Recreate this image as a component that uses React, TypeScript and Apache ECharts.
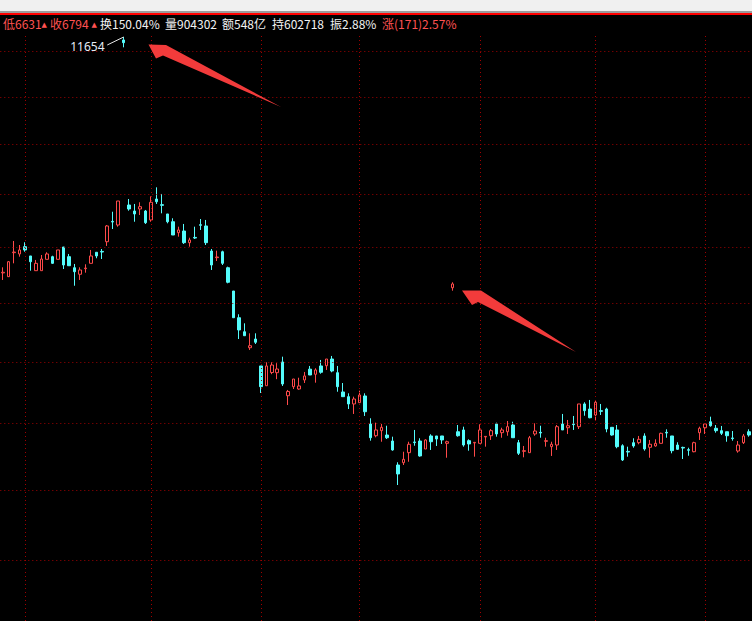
import React, { useEffect, useRef } from 'react';
import * as echarts from 'echarts';

// ---- data ----
const opens = [
  8705, 8658, 8958, 8942, 9033, 8917, 8733, 8733, 8875, 8908,
  8875, 9029, 8908, 8770, 8688, 8758, 8825, 8963, 8974, 9095,
  9349, 9304, 11617, 9554, 9479, 9504, 9479, 9367, 9629, 9558,
  9442, 9345, 9208, 9229, 9083, 9149, 9308, 9292, 8979, 8896,
  8970, 8770, 8479, 8145, 7970, 7770, 7879, 7542, 7295, 7460,
  7458, 7592, 7170, 7283, 7254, 7367, 7502, 7438, 7542, 7545,
  7629, 7458, 7217, 7158, 7067, 7083, 7167, 6817, 6670, 6733,
  6679, 6604, 6304, 6333, 6458, 6592, 6604, 6504, 6667, 6667,
  6667, 6575, 8520, 6720, 6742, 6608, 6580, 6575, 6654, 6670,
  6817, 6708, 6720, 6804, 6583, 6475, 6458, 6692, 6712, 6600,
  6533, 6554, 6817, 6770, 6817, 6783, 7067, 7004, 6929, 6983,
  7004, 6775, 6742, 6545, 6474, 6583, 6583, 6667, 6525, 6542,
  6575, 6712, 6667, 6554, 6524, 6496, 6470, 6708, 6770, 6845,
  6763, 6733, 6720, 6642, 6479, 6583, 6720,
];
const closes = [
  8713, 8845, 8966, 8992, 8992, 8845, 8825, 8879, 8942, 8825,
  8992, 8804, 8795, 8720, 8742, 8766, 8917, 8917, 8966, 9292,
  9341, 9604, 11583, 9504, 9442, 9533, 9333, 9588, 9595, 9550,
  9345, 9179, 9242, 9083, 9117, 9141, 9300, 9083, 8804, 8904,
  8825, 8588, 8145, 7992, 7920, 7795, 7838, 7283, 7542, 7554,
  7504, 7317, 7223, 7379, 7292, 7417, 7429, 7492, 7463, 7629,
  7479, 7283, 7158, 7067, 7129, 7179, 6970, 6645, 6742, 6775,
  6645, 6492, 6192, 6375, 6563, 6584, 6417, 6617, 6595, 6629,
  6617, 6595, 8567, 6670, 6554, 6567, 6587, 6742, 6662, 6733,
  6692, 6742, 6783, 6645, 6450, 6483, 6645, 6729, 6704, 6608,
  6563, 6783, 6742, 6795, 6809, 7067, 6983, 6895, 7088, 6975,
  6754, 6679, 6533, 6367, 6466, 6542, 6625, 6504, 6563, 6575,
  6700, 6704, 6483, 6500, 6516, 6488, 6583, 6763, 6817, 6795,
  6733, 6700, 6670, 6634, 6554, 6667, 6679,
];
const lows = [
  8617, 8655, 8825, 8908, 8970, 8733, 8733, 8733, 8875, 8817,
  8875, 8754, 8795, 8545, 8617, 8708, 8825, 8888, 8879, 9042,
  9254, 9283, 11525, 9483, 9345, 9429, 9317, 9345, 9567, 9450,
  9325, 9179, 9158, 9067, 9033, 9129, 9242, 9054, 8742, 8854,
  8804, 8575, 8145, 7879, 7917, 7742, 7817, 7204, 7295, 7439,
  7377, 7292, 7054, 7254, 7245, 7329, 7429, 7333, 7445, 7492,
  7463, 7220, 7158, 7004, 6942, 7083, 6917, 6608, 6650, 6595,
  6629, 6483, 6054, 6304, 6345, 6545, 6408, 6504, 6492, 6542,
  6567, 6395, 8483, 6658, 6533, 6483, 6408, 6575, 6533, 6617,
  6658, 6645, 6670, 6645, 6429, 6400, 6458, 6670, 6645, 6533,
  6417, 6492, 6742, 6692, 6742, 6754, 6920, 6888, 6858, 6929,
  6713, 6670, 6513, 6354, 6408, 6520, 6563, 6483, 6395, 6533,
  6575, 6645, 6450, 6492, 6379, 6420, 6463, 6617, 6692, 6783,
  6708, 6679, 6595, 6608, 6458, 6567, 6658,
];
const highs = [
  8775, 8854, 9104, 9054, 9088, 8917, 8867, 8929, 8963, 8920,
  8992, 9029, 8942, 8817, 8775, 8813, 8992, 8963, 9004, 9304,
  9470, 9604, 11654, 9629, 9567, 9588, 9492, 9662, 9775, 9692,
  9442, 9388, 9283, 9317, 9145, 9283, 9379, 9367, 9004, 8983,
  8983, 8783, 8479, 8188, 8075, 7950, 7950, 7542, 7588, 7588,
  7577, 7658, 7242, 7379, 7395, 7467, 7542, 7513, 7617, 7629,
  7667, 7542, 7329, 7200, 7158, 7233, 7200, 6888, 6833, 6817,
  6795, 6658, 6338, 6470, 6595, 6742, 6638, 6625, 6688, 6667,
  6667, 6608, 8588, 6804, 6783, 6625, 6592, 6813, 6662, 6754,
  6833, 6770, 6854, 6845, 6617, 6542, 6667, 6825, 6795, 6645,
  6595, 6804, 6942, 6867, 6917, 7067, 7088, 7117, 7108, 7067,
  7020, 6775, 6804, 6563, 6533, 6638, 6667, 6700, 6617, 6625,
  6708, 6750, 6667, 6588, 6533, 6520, 6595, 6783, 6825, 6908,
  6804, 6792, 6720, 6729, 6604, 6692, 6750,
];
const categories = opens.map((_, i) => `K${i + 1}`);

// price levels of the dotted horizontal grid lines
const gridLevels = [11479, 10904, 10317, 9692, 9029, 8329, 7592, 6829, 5992, 5117];
// bars where a new month starts (vertical dotted lines)
const monthStartIdx = [4, 27, 47, 65, 87, 108, 128];

// the highest-high annotation
const peakLabel = '11654';
const peakLeaderFrom = { idx: 19, price: 11554 };
const peakLeaderTo = { idx: 22, price: 11654 };

// header texts
const headerTexts = ['低6631', '▲', '收6794', '▲', '换150.04%', '量904302', '额548亿', '持602718', '振2.88%', '涨(171)2.57%'];
const headerIsRed = [true, true, true, true, false, false, false, false, false, true];

// ---- layout / style ----
const headerX = [3, 41.5, 50, 91.5, 100, 165, 222, 272, 330, 382];
const Y_MIN = 4354;
const Y_MAX = 11666.5;
const RED = '#FF4A4A';
const CYAN = '#54FCFC';
const GRID_RED = '#A00000';
const ARROW_RED = '#F23B3B';
const TEXT_RED = '#FF5252';
const TEXT_WHITE = '#F2F2F2';

const arrowShapes = [
  [[148.5, 44.5], [166, 45], [281, 107], [163, 55.5], [156, 58.5]],
  [[462, 290.5], [481, 290.5], [576, 352], [478, 302], [472, 305]],
];

function buildOption() {
  const dotted = { color: GRID_RED, width: 1, type: [1, 3] as number[] };
  const markData: any[] = [];
  gridLevels.forEach((v) => markData.push({ yAxis: v, lineStyle: dotted }));
  monthStartIdx.forEach((i) => markData.push({ xAxis: categories[i], lineStyle: dotted }));
  const leaderStyle = { color: '#E8E8E8', width: 1, type: 'solid' };
  const leaderLabel = {
    show: true,
    position: 'start',
    distance: 3,
    formatter: peakLabel,
    color: '#E6ECF5',
    fontSize: 12,
    fontFamily: 'Noto Sans',
  };
  markData.push([
    { coord: [categories[peakLeaderFrom.idx], peakLeaderFrom.price], lineStyle: leaderStyle, label: leaderLabel },
    { coord: [categories[peakLeaderTo.idx], peakLeaderTo.price], lineStyle: leaderStyle, label: leaderLabel },
  ]);

  const graphics: any[] = [
    { type: 'rect', shape: { x: 0, y: 0, width: 752, height: 11 }, style: { fill: '#F0F0F0' }, z: 20 },
    { type: 'rect', shape: { x: 0, y: 11, width: 752, height: 2 }, style: { fill: '#9C9C9C' }, z: 20 },
    { type: 'rect', shape: { x: 0, y: 13, width: 752, height: 2 }, style: { fill: '#FF0000' }, z: 20 },
  ];
  headerTexts.forEach((t, k) => {
    const isArrow = t === '▲';
    graphics.push({
      type: 'text',
      x: headerX[k],
      y: isArrow ? 24.5 : 23.5,
      z: 20,
      style: {
        text: t,
        fill: headerIsRed[k] ? TEXT_RED : TEXT_WHITE,
        fontSize: isArrow ? 7 : 12,
        fontFamily: isArrow ? 'DejaVu Sans' : '"Noto Sans CJK SC", "Noto Sans", sans-serif',
        align: 'left',
        verticalAlign: 'middle',
      },
    });
  });
  arrowShapes.forEach((pts) => {
    graphics.push({ type: 'polygon', shape: { points: pts }, style: { fill: ARROW_RED }, z: 15 });
  });

  return {
    animation: false,
    backgroundColor: '#000',
    grid: { left: 0.3, right: 0.4, top: 36, bottom: 0 },
    xAxis: { type: 'category', data: categories, show: false, boundaryGap: true },
    yAxis: { type: 'value', min: Y_MIN, max: Y_MAX, show: false },
    series: [
      {
        type: 'candlestick',
        data: opens.map((o, i) => [o, closes[i], lows[i], highs[i]]),
        barWidth: 3,
        itemStyle: {
          color: '#000',
          color0: CYAN,
          borderColor: RED,
          borderColor0: CYAN,
          borderWidth: 1,
        },
        markLine: {
          silent: true,
          animation: false,
          symbol: ['none', 'none'],
          label: { show: false },
          data: markData,
        },
      },
    ],
    graphic: graphics,
  };
}

export default function App() {
  const ref = useRef<HTMLDivElement>(null);
  useEffect(() => {
    document.body.style.margin = '0';
    document.body.style.background = '#000';
    const chart = echarts.init(ref.current as HTMLDivElement, null, { renderer: 'svg' });
    chart.setOption(buildOption() as any);
    return () => chart.dispose();
  }, []);
  return <div ref={ref} style={{ width: 752, height: 621 }} />;
}
